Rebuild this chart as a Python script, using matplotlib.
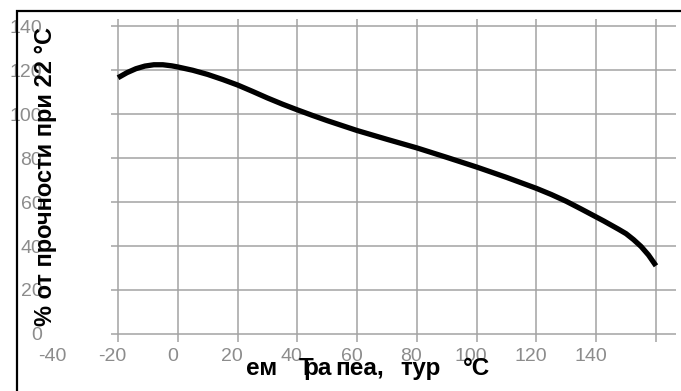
import numpy as np
import matplotlib
matplotlib.use("Agg")
import matplotlib.pyplot as plt
import matplotlib.transforms as mtransforms
from matplotlib.patches import Rectangle

plt.rcParams['font.family'] = ['Liberation Sans', 'DejaVu Sans']

# temperature, deg C
temp = [-20, -17, -14, -11, -8, -5, -2, 0, 5, 10, 15, 20, 25, 30, 35, 40, 45,
        50, 60, 70, 80, 90, 100, 110, 120, 125, 130, 135, 140, 142.5, 145,
        147.5, 150, 152.5, 155, 157.5, 160]
# % of strength at 22 deg C
strength = [116.5, 118.8, 120.6, 121.8, 122.4, 122.4, 121.9, 121.4, 119.9,
            118.0, 115.7, 113.2, 110.3, 107.3, 104.5, 101.9, 99.4, 97.0, 92.5,
            88.5, 84.6, 80.3, 75.9, 71.2, 66.2, 63.4, 60.3, 56.8, 53.2, 51.4,
            49.5, 47.6, 45.6, 42.9, 39.8, 35.9, 31.0]

grid_x = [-20, 0, 20, 40, 60, 80, 100, 120, 140, 160]
xtick_labels = ["-20", "0", "20", "40", "60", "80", "100", "120", "140", ""]
grid_y = [0, 20, 40, 60, 80, 100, 120, 140]
ylabel_text = "% от прочности при 22 °C"
xlabel_parts = [("ем", 246), ("Т", 299), ("ра", 303), ("пеа,", 335), ("тур", 400), ("°C", 463)]

W, H = 681, 391
fig = plt.figure(figsize=(W / 100, H / 100), dpi=100)
ax = fig.add_axes([111 / W, (H - 342) / H, (676 - 111) / W, (342 - 19) / H])

ax.plot(temp, strength, color='black', lw=3.8, solid_capstyle='butt',
        solid_joinstyle='round', zorder=3)

ax.set_xlim(-22.34, 166.7)
ax.set_ylim(-3.64, 143.2)
ax.set_xticks(grid_x)
ax.set_xticklabels(xtick_labels)
ax.set_yticks(grid_y)
ax.grid(True, color='#a3a3a3', lw=1.1)
ax.tick_params(length=0, labelsize=14, labelcolor='#8c8c8c')
ax.tick_params(axis='y', pad=49.5)
ax.tick_params(axis='x', pad=4.5)
for s in ax.spines.values():
    s.set_visible(False)

# x tick labels sit a little left of the grid lines
shift = mtransforms.ScaledTranslation(-5.5 / 100, 0, fig.dpi_scale_trans)
for lab in ax.get_xticklabels():
    lab.set_transform(lab.get_transform() + shift)
ax.text(-40, 0, "-40", transform=ax.get_xaxis_text1_transform(4.5)[0] + shift,
        ha='center', va='top', fontsize=14, color='#8c8c8c', clip_on=False)

fig.text(46 / W, (H - 176) / H, ylabel_text, rotation=90, ha='center', va='center',
         fontsize=17, fontweight='bold', color='black', zorder=5)
for txt, px in xlabel_parts:
    fig.text(px / W, (H - 375) / H, txt, ha='left', va='baseline',
             fontsize=17.5, fontweight='bold', color='black', zorder=5)

# outer frame
fig.patches.append(Rectangle((17 / W, -0.1), 2.0, 1.1 - 11 / H, transform=fig.transFigure,
                             fill=False, ec='black', lw=1.6))

fig.savefig("out.png", dpi=100)
